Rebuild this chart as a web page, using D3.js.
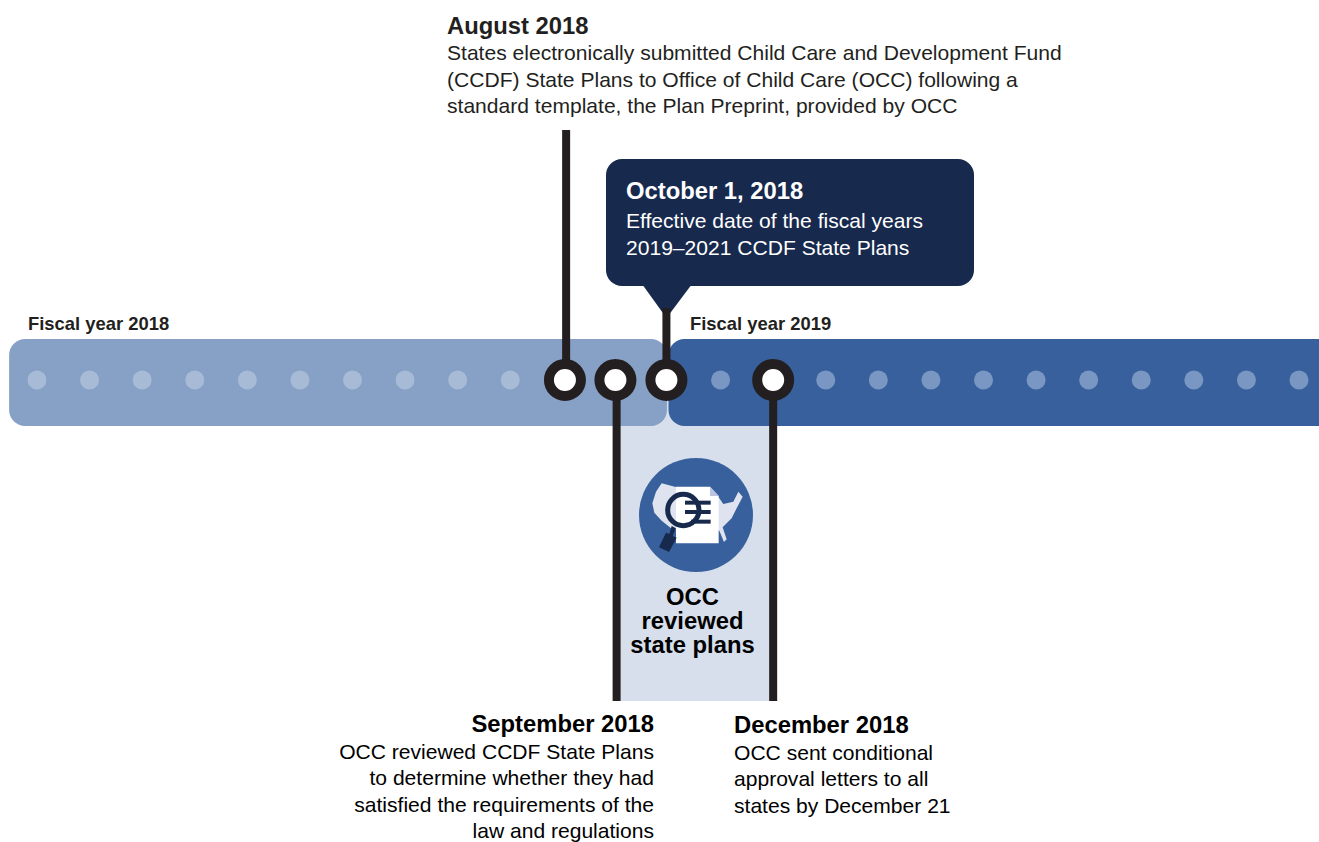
<!DOCTYPE html>
<html>
<head>
<meta charset="utf-8">
<script src="https://d3js.org/d3.v7.min.js"></script>
<style>
  html, body {margin:0; padding:0; background:#fff;}
  svg {display:block;}
  text {font-family:"Liberation Sans", Arial, sans-serif;}
</style>
</head>
<body>
<svg></svg>
<script>
// months along the timeline, 0 = October 2017
var monthIndex = [0,1,2,3,4,5,6,7,8,9,10,11,12,13,14,15,16,17,18,19,20,21,22,23,24]
var markedMonths = [10.04, 11, 11.97, 14]   // Aug, Sep, Oct, Dec 2018
var fiscalNames = ["Fiscal year 2018", "Fiscal year 2019"]
var fiscalStart = [-0.53, 12.01]
var fiscalEnd = [11.98, 25.5]

var augustLines = ["States electronically submitted Child Care and Development Fund",
    "(CCDF) State Plans to Office of Child Care (OCC) following a",
    "standard template, the Plan Preprint, provided by OCC"]
var octoberLines = ["Effective date of the fiscal years", "2019\u20132021 CCDF State Plans"]
var septemberLines = ["OCC reviewed CCDF State Plans", "to determine whether they had",
    "satisfied the requirements of the", "law and regulations"]
var decemberLines = ["OCC sent conditional", "approval letters to all", "states by December 21"]
var reviewLines = ["OCC", "reviewed", "state plans"]

var screen = {width:1319, height:842}
var dark = "#231f20"
var navy = "#17294d"

var xScale = d3.scaleLinear().domain([0,24]).range([37,1299])
var barTop = 339, barBottom = 426, midY = 380

var svg = d3.select("svg")
    .attr("width",screen.width)
    .attr("height",screen.height)

// shaded review period, sits behind the bars
svg.append("rect")
    .attr("x",xScale(11)+1)
    .attr("y",midY)
    .attr("width",xScale(14)-xScale(11))
    .attr("height",701-midY)
    .attr("fill","#d6dfeb")

// fiscal year bars
svg.selectAll(".fy")
    .data(fiscalNames)
    .enter()
    .append("rect")
    .classed("fy",true)
    .attr("x",function(d,i){return xScale(fiscalStart[i])})
    .attr("y",barTop)
    .attr("width",function(d,i){return xScale(fiscalEnd[i])-xScale(fiscalStart[i])})
    .attr("height",barBottom-barTop)
    .attr("rx",16)
    .attr("fill",function(d,i){return i==0 ? "#87a0c5" : "#37609c"})

svg.selectAll(".fyLabel")
    .data(fiscalNames)
    .enter()
    .append("text")
    .classed("fyLabel",true)
    .attr("x",function(d,i){return i==0 ? 28 : 690})
    .attr("y",330)
    .attr("font-size",18.4)
    .attr("font-weight","bold")
    .attr("fill",dark)
    .text(function(d){return d})

// month dots
svg.selectAll(".month")
    .data(monthIndex)
    .enter()
    .append("circle")
    .classed("month",true)
    .attr("cx",function(d){return xScale(d)})
    .attr("cy",midY)
    .attr("r",9.5)
    .attr("fill",function(d){return d<12 ? "#a8bbd6" : "#7a97c3"})

// callout
var callout = svg.append("g")
callout.append("path")
    .attr("d","M642,284 L666.5,318 L692,284 Z")
    .attr("fill",navy)
callout.append("rect")
    .attr("x",606).attr("y",159)
    .attr("width",368).attr("height",127)
    .attr("rx",16)
    .attr("fill",navy)

// stems, up for Aug and Oct, down for Sep and Dec
var stemEnd = [130, 701, 308, 701]
var stemX = function(d,i){return xScale(d)+(i<2 ? 1.2 : 0)}
svg.selectAll(".stem")
    .data(markedMonths)
    .enter()
    .append("line")
    .classed("stem",true)
    .attr("x1",stemX)
    .attr("x2",stemX)
    .attr("y1",midY)
    .attr("y2",function(d,i){return stemEnd[i]})
    .attr("stroke",dark)
    .attr("stroke-width",8)

svg.selectAll(".marker")
    .data(markedMonths)
    .enter()
    .append("circle")
    .classed("marker",true)
    .attr("cx",function(d){return xScale(d)})
    .attr("cy",midY)
    .attr("r",16)
    .attr("fill","#fff")
    .attr("stroke",dark)
    .attr("stroke-width",10)

// icon, drawn in a 450 box then scaled down
svg.append("circle")
    .attr("cx",696).attr("cy",515).attr("r",57)
    .attr("fill","#37609c")
var icon = svg.append("g")
    .attr("transform","translate(620,440) scale(0.3333)")
icon.append("path")
    .attr("d","M97,190 L108,155 L125,130 L170,142 L270,150 L296,172 L310,192 L340,185 L355,155 L368,170 L350,205 L335,235 L308,262 L320,298 L312,306 L298,272 L280,262 L230,272 L195,262 L160,270 L125,242 L103,218 Z")
    .attr("fill","#dfe3f0")
icon.append("path")
    .attr("d","M168,140 L270,140 L296,168 L296,310 L168,310 Z")
    .attr("fill","#fff")
icon.append("path")
    .attr("d","M270,140 L296,168 L270,168 Z")
    .attr("fill","#b9c4e0")
icon.append("circle")
    .attr("cx",190).attr("cy",210).attr("r",47)
    .attr("fill","none")
    .attr("stroke",navy)
    .attr("stroke-width",15)
icon.append("path")
    .attr("d","M155,258 L168,265 L158,288 L170,293 L147,336 L117,322 L138,278 L148,282 Z")
    .attr("fill",navy)
icon.selectAll(".bar")
    .data([[195,188],[195,216],[213,245]])
    .enter()
    .append("line")
    .attr("x1",function(d){return d[0]})
    .attr("x2",272)
    .attr("y1",function(d){return d[1]})
    .attr("y2",function(d){return d[1]})
    .attr("stroke",navy)
    .attr("stroke-width",12)

// text blocks
var block = function(title, lines, x, titleY, firstY, step, anchor, color)
{
    svg.append("text")
    .attr("x",x)
    .attr("y",titleY)
    .attr("text-anchor",anchor)
    .attr("font-size",23.8)
    .attr("font-weight","bold")
    .attr("fill",color)
    .text(title)

    svg.selectAll(null)
    .data(lines)
    .enter()
    .append("text")
    .attr("x",x)
    .attr("y",function(d,i){return firstY+i*step})
    .attr("text-anchor",anchor)
    .attr("font-size",21.07)
    .attr("fill",color)
    .text(function(d){return d})
}

block("August 2018", augustLines, 447, 33.5, 60, 26.5, "start", dark)
block("October 1, 2018", octoberLines, 626, 199, 228, 27, "start", "#fff")
block("September 2018", septemberLines, 654, 732, 759, 26.3, "end", "#000")
block("December 2018", decemberLines, 734, 733, 760, 26.3, "start", "#000")

svg.selectAll(".review")
    .data(reviewLines)
    .enter()
    .append("text")
    .classed("review",true)
    .attr("x",692.5)
    .attr("y",function(d,i){return 604.5+i*24})
    .attr("text-anchor","middle")
    .attr("font-size",23.8)
    .attr("font-weight","bold")
    .attr("fill","#000")
    .text(function(d){return d})
</script>
</body>
</html>
